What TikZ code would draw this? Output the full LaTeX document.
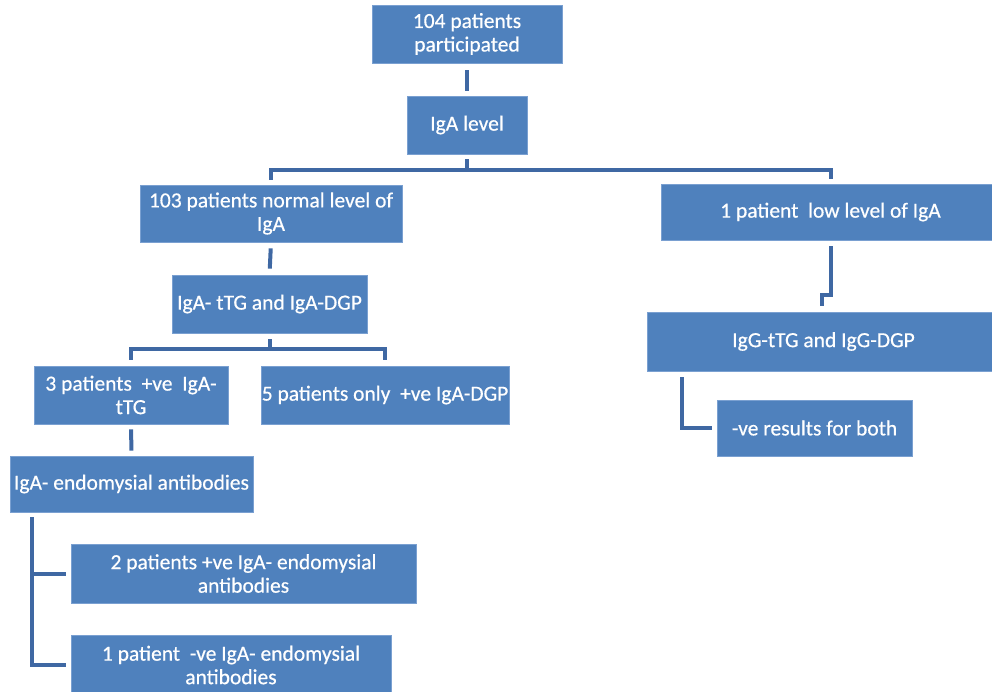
\documentclass[tikz,border=0pt]{standalone}
\usepackage{fontspec}
\setmainfont{Carlito}
\newfontfamily\boxfont{Carlito}[FakeBold=0.5]
\usepackage{tikz}
\usetikzlibrary{positioning,calc}
\definecolor{boxblue}{RGB}{79,129,189}
\definecolor{boxedge}{RGB}{122,160,209}
\definecolor{linkblue}{RGB}{63,104,163}
\tikzset{
  box/.style={fill=boxblue, draw=boxedge, line width=0.8pt, text=white, align=center,
    inner sep=0pt, font=\boxfont\fontsize{21.5}{23.5}\selectfont},
  link/.style={draw=linkblue, line width=4pt},
}

\begin{document}
\begin{tikzpicture}[x=1pt,y=-1pt]
        \useasboundingbox (0,0) rectangle (992,691);
        \clip (0,0) rectangle (992,691);

        % Top of the tree
        \node[box, minimum width=190pt, minimum height=58pt] (total) at (467,34) {104 patients\\participated};
        \node[box, minimum width=120pt, minimum height=58pt] (iga) at (467,125) {IgA level};
        \node[box, minimum width=262pt, minimum height=57pt] (normal) at (271,213.5) {103 patients normal level of\\IgA};
        \node[box, minimum width=339pt, minimum height=56pt] (low) at (830.5,212) {1 patient~ low level of IgA};

        % Normal IgA branch
        \node[box, minimum width=195pt, minimum height=58pt] (tests) at (269.5,304) {IgA- tTG and IgA-DGP};
        \node[box, minimum width=194pt, minimum height=58pt] (posttg) at (131,395) {3 patients~ +ve~ IgA-\\tTG};
        \node[box, minimum width=248pt, minimum height=58pt] (posdgp) at (385,395) {5 patients only~ +ve IgA-DGP};
        \node[box, minimum width=243pt, minimum height=56pt] (ema) at (131.5,484) {IgA- endomysial antibodies};
        \node[box, minimum width=345pt, minimum height=59pt] (posema) at (243.5,573.5) {2 patients +ve IgA- endomysial\\antibodies};
        \node[box, minimum width=320pt, minimum height=60pt] (negema) at (231,665) {1 patient~ -ve IgA- endomysial\\antibodies};

        % Low IgA branch
        \node[box, minimum width=353pt, minimum height=59pt] (igg) at (823.5,341.5) {IgG-tTG and IgG-DGP};
        \node[box, minimum width=195pt, minimum height=56pt] (negres) at (814.5,428) {-ve results for both};

        % Connectors
        \draw[link, shorten <=7pt, shorten >=5pt] (total.south) -- (iga.north);
        \draw[link, shorten <=5pt] (iga.south) -- ++(0,15);
        \draw[link, shorten <=5pt, shorten >=5pt] (normal.north) -- ++(0,-15) -| ([xshift=0.5pt]low.north);
        \draw[link, shorten <=6pt, shorten >=6pt] (normal.south) -- (tests.north);
        \draw[link, shorten <=6pt] (tests.south) -- ++(0,15);
        \draw[link, shorten <=6pt, shorten >=6pt] (posttg.north) -- ++(0,-17) -| (posdgp.north);
        \draw[link, shorten <=5pt, shorten >=5pt] (posttg.south) -- (ema.north);
        \draw[link] ([xshift=22pt,yshift=-5pt]ema.south west) |- ([xshift=-5pt]negema.west);
        \draw[link] ([xshift=22pt,yshift=-5pt]ema.south west) |- ([xshift=-5pt]posema.west);
        \draw[link] ([yshift=-6pt]low.south) -- ++(0,49) -| ([xshift=-1.5pt,yshift=6pt]igg.north);
        \draw[link] ([xshift=35pt,yshift=-6pt]igg.south west) |- ([xshift=-5pt]negres.west);
\end{tikzpicture}
\end{document}
